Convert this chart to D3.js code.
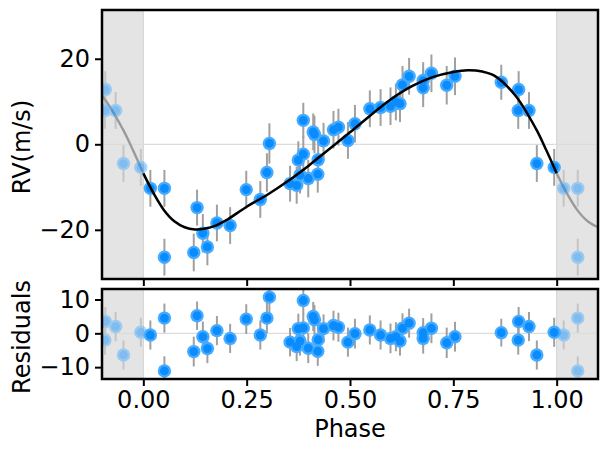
<!DOCTYPE html>
<html>
<head>
<meta charset="utf-8">
<script src="https://cdn.jsdelivr.net/npm/d3@7"></script>
<style>
  body { margin: 0; background: white; }
  text { font-family: 'DejaVu Sans', sans-serif; }
</style>
</head>
<body>
<script>
// phase folded data
var phase = [0.017, 0.051, 0.051, 0.122, 0.130, 0.144, 0.155, 0.178, 0.210, 0.249,
  0.283, 0.299, 0.305, 0.355, 0.371, 0.375, 0.379, 0.387, 0.387, 0.399,
  0.411, 0.414, 0.422, 0.423, 0.436, 0.460, 0.472, 0.495, 0.512, 0.548,
  0.574, 0.598, 0.611, 0.621, 0.627, 0.643, 0.677, 0.677, 0.697, 0.734,
  0.754, 0.866, 0.908, 0.907, 0.933, 0.952, 0.994];
var rv = [-10.3, -10.3, -26.4, -25.3, -14.8, -20.8, -24.0, -18.4, -19.0, -10.6,
  -12.9, -6.6, 0.2, -9.2, -9.6, -3.7, -7.2, 5.6, -2.3, -8.0,
  2.9, 2.3, -7.0, -3.6, 0.8, 3.4, 4.0, 0.9, 4.8, 8.3,
  8.6, 8.9, 9.9, 9.5, 13.9, 15.9, 14.9, 13.2, 16.6, 13.8,
  15.9, 14.5, 12.8, 7.9, 7.9, -4.5, -5.4];
var resid = [-0.5, 4.5, -11.1, -5.4, 5.2, -1.0, -4.5, 0.8, -1.5, 4.2,
  -0.5, 4.5, 10.7, -2.6, -3.9, 1.4, -2.3, 9.7, 1.6, -4.4,
  5.0, 4.0, -5.3, -1.9, 1.4, 2.3, 1.8, -2.6, -0.1, 1.0,
  -0.5, -1.5, -1.0, -2.3, 1.5, 3.0, 0.2, -1.5, 1.5, -2.8,
  -1.0, 0.2, 3.5, -2.0, 2.0, -6.4, 0.3];
var err = [4.3, 4.3, 4.3, 4.4, 4.2, 4.5, 4.3, 4.3, 4.3, 4.4,
  4.3, 4.5, 4.7, 4.2, 4.3, 4.4, 4.3, 4.1, 4.3, 4.4,
  4.3, 4.4, 4.3, 4.3, 4.2, 4.4, 4.3, 4.3, 4.4, 4.3,
  4.3, 4.4, 4.3, 4.3, 4.4, 4.3, 4.3, 4.5, 4.4, 4.5,
  4.4, 4.1, 4.3, 4.3, 4.3, 4.3, 4.3];

// keplerian model curve, one period
var modelPhase = [0.00, 0.025, 0.05, 0.075, 0.10, 0.125, 0.15, 0.175, 0.20, 0.25,
  0.30, 0.35, 0.40, 0.45, 0.50, 0.55, 0.60, 0.65, 0.70, 0.75,
  0.785, 0.82, 0.85, 0.90, 0.95, 0.975, 1.00];
var modelRV = [-6.8, -11.5, -15.4, -18.0, -19.4, -19.9, -19.7, -19.0, -17.8, -14.6,
  -11.8, -8.6, -5.0, -1.1, 2.8, 6.8, 10.6, 13.6, 15.7, 16.9,
  17.3, 17.0, 16.0, 11.4, 3.6, -1.4, -6.8];

var xTicks = [0, 0.25, 0.5, 0.75, 1];
var rvTicks = [-20, 0, 20];
var resTicks = [-10, 0, 10];

var W = 608, H = 452;
var left = 102, right = 598;
var top1 = 10, bot1 = 279, top2 = 289, bot2 = 379;
var fs = 24;

var svg = d3.select('body').append('svg')
  .attr('width', W)
  .attr('height', H);

var x = d3.scaleLinear().domain([-0.1, 1.1]).range([left, right]);
var y1 = d3.scaleLinear().domain([-31.5, 31.4]).range([bot1, top1]);
var y2 = d3.scaleLinear().domain([-13.5, 13.1]).range([bot2, top2]);

var pts = phase.map(function(p, i) {
  return {p: p, rv: rv[i], res: resid[i], e: err[i]};
});
// wrapped copies shown in the grey zones
var copies = [];
pts.forEach(function(d) {
  copies.push({p: d.p - 1, rv: d.rv, res: d.res, e: d.e});
  copies.push({p: d.p + 1, rv: d.rv, res: d.res, e: d.e});
});

var model = modelPhase.map(function(p, i) { return {p: p, v: modelRV[i]}; });

function panel(id, y, yTop, yBot, key, ticks, showModel) {
  svg.append('clipPath').attr('id', id)
    .append('rect')
    .attr('x', left).attr('y', yTop)
    .attr('width', right - left).attr('height', yBot - yTop);

  var g = svg.append('g').attr('clip-path', 'url(#' + id + ')');

  // grey phase-wrap zones
  [[-0.1, 0], [1, 1.1]].forEach(function(s) {
    g.append('rect')
      .attr('x', x(s[0])).attr('y', yTop)
      .attr('width', x(s[1]) - x(s[0])).attr('height', yBot - yTop)
      .attr('fill', '#e4e4e4');
  });
  [0, 1].forEach(function(v) {
    g.append('line')
      .attr('x1', x(v)).attr('x2', x(v))
      .attr('y1', yTop).attr('y2', yBot)
      .attr('stroke', '#d2d2d2').attr('stroke-width', 1);
  });

  g.append('line')
    .attr('x1', left).attr('x2', right)
    .attr('y1', y(0)).attr('y2', y(0))
    .attr('stroke', '#dcdcdc').attr('stroke-width', 1.2);

  var line = d3.line()
    .x(function(d) { return x(d.p); })
    .y(function(d) { return y(d.v); })
    .curve(d3.curveCatmullRom);

  if (showModel) {
    [-1, 1].forEach(function(k) {
      g.append('path')
        .datum(model.map(function(d) { return {p: d.p + k, v: d.v}; }))
        .attr('d', line)
        .attr('fill', 'none')
        .attr('stroke', '#9a9a9a')
        .attr('stroke-width', 2.4);
    });
  }

  function drawPts(data, op) {
    var pg = g.append('g').attr('opacity', op);
    pg.selectAll('line.eb').data(data).enter().append('line')
      .attr('class', 'eb')
      .attr('x1', function(d) { return x(d.p); })
      .attr('x2', function(d) { return x(d.p); })
      .attr('y1', function(d) { return y(d[key] - d.e); })
      .attr('y2', function(d) { return y(d[key] + d.e); })
      .attr('stroke', '#a0a0a0')
      .attr('stroke-width', 2);
    pg.selectAll('circle.o').data(data).enter().append('circle')
      .attr('class', 'o')
      .attr('cx', function(d) { return x(d.p); })
      .attr('cy', function(d) { return y(d[key]); })
      .attr('r', 6.7)
      .attr('fill', '#45abff');
    pg.selectAll('circle.i').data(data).enter().append('circle')
      .attr('class', 'i')
      .attr('cx', function(d) { return x(d.p); })
      .attr('cy', function(d) { return y(d[key]); })
      .attr('r', 4.4)
      .attr('fill', '#0a8cff');
  }
  drawPts(copies, 0.45);
  drawPts(pts, 1);

  if (showModel) {
    g.append('path')
      .datum(model)
      .attr('d', line)
      .attr('fill', 'none')
      .attr('stroke', 'black')
      .attr('stroke-width', 2.5);
  }

  // axes
  var yAxis = svg.append('g')
    .attr('transform', 'translate(' + left + ',0)')
    .call(d3.axisLeft(y).tickValues(ticks).tickSize(7).tickPadding(5)
      .tickFormat(function(d) { return d < 0 ? '\u2212' + Math.abs(d) : d; }));
  var xAxis = svg.append('g')
    .attr('transform', 'translate(0,' + yBot + ')')
    .call(d3.axisBottom(x).tickValues(xTicks).tickSize(7).tickPadding(5)
      .tickFormat(showModel ? '' : d3.format('.2f')));
  [yAxis, xAxis].forEach(function(a) {
    a.attr('font-size', fs).attr('font-family', "'DejaVu Sans', sans-serif");
    a.select('.domain').remove();
    a.selectAll('line').attr('stroke', 'black').attr('stroke-width', 2);
    a.selectAll('text').attr('fill', 'black');
  });

  svg.append('rect')
    .attr('x', left).attr('y', yTop)
    .attr('width', right - left).attr('height', yBot - yTop)
    .attr('fill', 'none')
    .attr('stroke', 'black')
    .attr('stroke-width', 2.5);
}

panel('c1', y1, top1, bot1, 'rv', rvTicks, true);
panel('c2', y2, top2, bot2, 'res', resTicks, false);

// axis titles
svg.append('text').text('RV(m/s)')
  .attr('transform', 'translate(30,147) rotate(-90)')
  .attr('text-anchor', 'middle')
  .attr('font-size', fs);
svg.append('text').text('Residuals')
  .attr('transform', 'translate(30,337) rotate(-90)')
  .attr('text-anchor', 'middle')
  .attr('font-size', fs);
svg.append('text').text('Phase')
  .attr('x', 350)
  .attr('y', 437)
  .attr('text-anchor', 'middle')
  .attr('font-size', fs);
</script>
</body>
</html>
